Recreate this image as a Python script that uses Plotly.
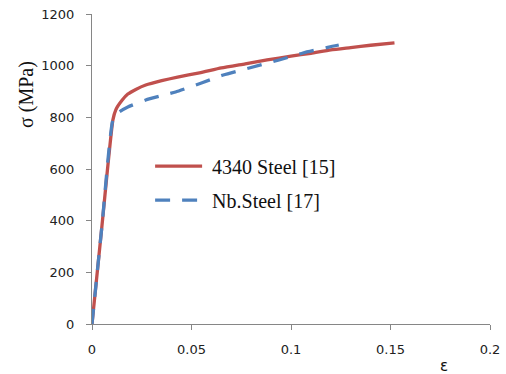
import plotly.graph_objects as go

red_eps = [0, 0.005, 0.0105, 0.012, 0.015, 0.018, 0.022, 0.027, 0.035, 0.043, 0.054,
           0.065, 0.077, 0.088, 0.1, 0.11, 0.12, 0.13, 0.14, 0.152]
red_sig = [0, 380, 790, 830, 865, 890, 908, 925, 942, 956, 972,
           991, 1007, 1022, 1037, 1048, 1061, 1070, 1079, 1088]

blue_eps = [0, 0.005, 0.0105, 0.013, 0.018, 0.027, 0.035, 0.042, 0.055, 0.066,
            0.079, 0.094, 0.106, 0.119, 0.124]
blue_sig = [0, 380, 790, 817, 840, 867, 884, 898, 933, 964,
            991, 1022, 1049, 1072, 1080]

x_ticks = [0, 0.05, 0.1, 0.15, 0.2]
x_labels = ["0", "0.05", "0.1", "0.15", "0.2"]
y_ticks = [0, 200, 400, 600, 800, 1000, 1200]

fig = go.Figure()
fig.add_trace(go.Scatter(x=red_eps, y=red_sig, mode="lines", name="\u00a04340 Steel [15]",
                         legendgroup="a",
                         line=dict(color="#C0504D", width=3.3, shape="spline", smoothing=0.5)))
fig.add_trace(go.Scatter(x=blue_eps, y=blue_sig, mode="lines", name="\u00a0Nb.Steel [17]",
                         legendgroup="b",
                         line=dict(color="#4F81BD", width=3.3, dash="15px,12px", shape="spline", smoothing=0.5)))

axis_common = dict(showgrid=False, zeroline=False, showline=True, linecolor="#868686",
                   linewidth=1, ticks="outside", ticklen=5, tickcolor="#868686",
                   tickfont=dict(family="DejaVu Sans", size=13, color="#222222"))
fig.update_xaxes(range=[0, 0.2], tickvals=x_ticks, ticktext=x_labels, automargin=False,
                 ticklabelstandoff=8, **axis_common)
fig.update_yaxes(range=[0, 1200], tickvals=y_ticks, automargin=False,
                 ticklabelstandoff=9, **axis_common)

fig.update_layout(
    width=506, height=374, autosize=False,
    margin=dict(l=92, r=16, t=14, b=50, pad=0),
    paper_bgcolor="white", plot_bgcolor="white",
    showlegend=True,
    legend=dict(x=0.146, y=0.572, xanchor="left", yanchor="top",
                bgcolor="rgba(0,0,0,0)", traceorder="grouped",
                font=dict(family="Liberation Serif", size=20, color="#111111"),
                itemwidth=47, tracegroupgap=5),
    annotations=[
        dict(text="σ (MPa)", xref="paper", yref="paper", x=-0.163, y=0.739,
             xanchor="center", yanchor="middle",
             textangle=-90, showarrow=False,
             font=dict(family="Liberation Serif", size=20, color="#111111")),
        dict(text="ε", xref="paper", yref="paper", x=0.884, y=-0.135,
             xanchor="center", yanchor="middle",
             showarrow=False,
             font=dict(family="DejaVu Sans", size=15, color="#111111")),
    ],
)

fig.write_html("out.html", config={"displayModeBar": False},
               post_script="document.body.style.margin='0';document.body.style.overflow='hidden';")
